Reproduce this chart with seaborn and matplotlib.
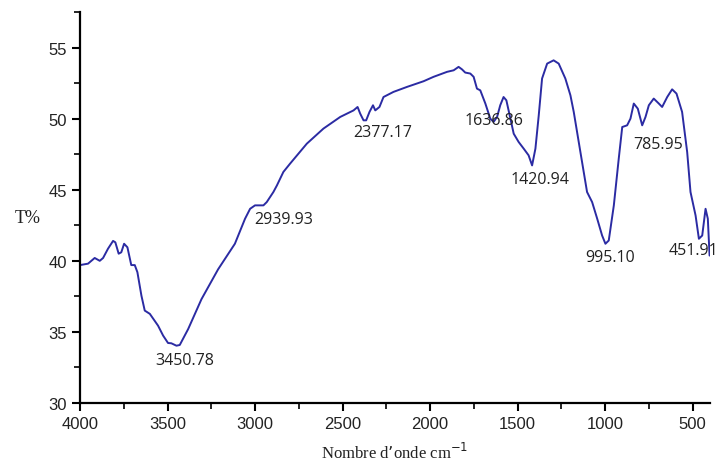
import numpy as np
import pandas as pd
import matplotlib
matplotlib.use("Agg")
import matplotlib.pyplot as plt
import matplotlib.ticker as mticker
import seaborn as sns

# --- spectrum ---
wavenumber = [4000, 3954, 3916, 3887, 3868, 3840, 3811, 3798, 3779, 3764, 3748, 3729,
              3707, 3687, 3672, 3649, 3630, 3601, 3554, 3525, 3497, 3478, 3449, 3430,
              3382, 3306, 3211, 3115, 3057, 3028, 3000, 2952, 2933, 2895, 2875, 2838,
              2800, 2704, 2609, 2513, 2437, 2414, 2399, 2380, 2365, 2346, 2326, 2313,
              2289, 2266, 2209, 2132, 2037, 1980, 1903, 1865, 1837, 1818, 1799, 1770,
              1751, 1732, 1713, 1684, 1656, 1637, 1617, 1599, 1580, 1564, 1545, 1522,
              1494, 1465, 1437, 1417, 1398, 1379, 1360, 1331, 1294, 1265, 1227, 1198,
              1179, 1141, 1103, 1074, 1045, 1017, 998, 979, 950, 922, 902, 874, 855,
              836, 813, 788, 769, 750, 722, 693, 674, 645, 617, 592, 560, 531, 512,
              483, 464, 445, 426, 413, 403]
transmittance = [39.7, 39.8, 40.2, 40.0, 40.2, 40.85, 41.4, 41.3, 40.5, 40.6, 41.2, 40.95,
                 39.7, 39.7, 39.2, 37.55, 36.5, 36.27, 35.44, 34.74, 34.22, 34.2, 34.03, 34.08,
                 35.2, 37.3, 39.4, 41.2, 42.96, 43.66, 43.9, 43.9, 44.13, 44.84, 45.3, 46.25,
                 46.83, 48.24, 49.3, 50.12, 50.58, 50.82, 50.35, 49.88, 49.88, 50.47, 50.94, 50.58,
                 50.82, 51.52, 51.88, 52.23, 52.63, 52.94, 53.29, 53.4, 53.64, 53.47, 53.24, 53.17,
                 52.94, 52.11, 51.99, 51.06, 50.0, 49.77, 50.12, 50.94, 51.52, 51.29, 50.23, 48.94,
                 48.36, 47.89, 47.42, 46.71, 47.89, 50.23, 52.82, 53.87, 54.1, 53.87, 52.82, 51.64,
                 50.47, 47.65, 44.84, 44.13, 42.96, 41.78, 41.2, 41.43, 43.9, 47.18, 49.41, 49.53, 50.0,
                 51.06, 50.7, 49.53, 50.12, 50.94, 51.41, 51.06, 50.82, 51.52, 52.06, 51.76, 50.47,
                 47.65, 44.84, 43.19, 41.55, 41.78, 43.66, 42.96, 40.37]

peak_labels = ["3450.78", "2939.93", "2377.17", "1636.86", "1420.94", "995.10", "785.95", "451.91"]
label_x = [3400, 2839, 2273, 1633, 1372, 971, 695, 495]
label_y = [33.0, 42.96, 49.08, 49.93, 45.77, 40.3, 48.24, 40.73]

df = pd.DataFrame({"wavenumber": wavenumber, "T": transmittance})

sns.set_style("ticks")
plt.rcParams["font.family"] = ["Liberation Sans", "DejaVu Sans"]

fig = plt.figure(figsize=(7.18, 4.64), dpi=100)
ax = fig.add_axes([0.1114, 0.1293, 0.8776, 0.8427])

sns.lineplot(data=df, x="wavenumber", y="T", sort=False, color="#2b2ba3",
             linewidth=1.4, ax=ax)

for txt, lx, ly in zip(peak_labels, label_x, label_y):
    ax.text(lx, ly, txt, ha="center", va="center", fontsize=11.5,
            family=["Open Sans", "DejaVu Sans"], color="#222222")

ax.set_xlim(4000, 400)
ax.set_ylim(30, 57.5)
ax.set_xticks([4000, 3500, 3000, 2500, 2000, 1500, 1000, 500])
ax.set_yticks([30, 35, 40, 45, 50, 55])
ax.xaxis.set_minor_locator(mticker.MultipleLocator(250))
ax.yaxis.set_minor_locator(mticker.MultipleLocator(2.5))
ax.tick_params(axis="both", which="major", labelsize=12, length=6, width=1.5,
               color="black", labelcolor="#222222")
ax.tick_params(axis="both", which="minor", length=4, width=1.2, color="black")

sns.despine(ax=ax)
for s in ["left", "bottom"]:
    ax.spines[s].set_linewidth(1.6)
    ax.spines[s].set_color("black")

ax.set_xlabel("Nombre d\u2019onde cm$^{-1}$", fontsize=12, labelpad=8,
              family=["Liberation Serif", "DejaVu Serif"], color="#222222")
ax.set_ylabel("")
fig.text(0.038, 0.53, "T%", fontsize=13, family=["Liberation Serif", "DejaVu Serif"],
         color="#222222", ha="center", va="center")

fig.savefig("out.png", dpi=100)
